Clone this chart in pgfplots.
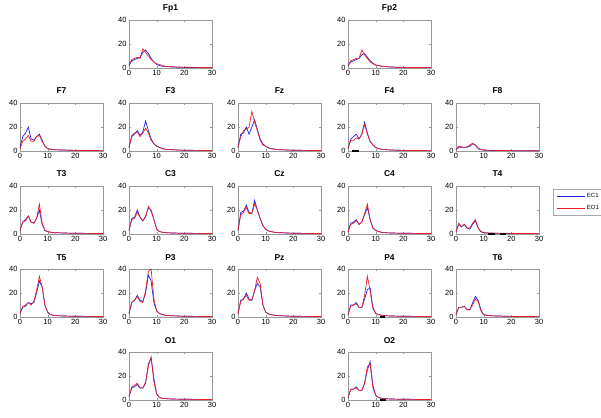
\documentclass[border=0pt]{standalone}
\usepackage{fontspec}
\setmainfont{Liberation Sans}
\usepackage{pgfplots}
\pgfplotsset{compat=1.18}

\definecolor{ecblue}{RGB}{30,30,235}
\definecolor{eored}{RGB}{235,30,40}

\pgfplotsset{
  panel/.style={
    anchor=south west,
    scale only axis,
    width=83pt, height=48pt,
    xmin=0, xmax=30, ymin=0, ymax=40,
    xtick={0,10,20,30}, ytick={0,20,40},
    axis line style={gray!80},
    tick style={gray!80},
    major tick length=2pt,
    tick align=inside,
    clip=false,
    /pgf/number format/assume math mode=true,
    tick label style={font=\fontsize{7.5}{8}\selectfont},
    xticklabel style={yshift=1pt},
    yticklabel style={xshift=1pt},
    title style={font=\bfseries\fontsize{8.5}{9}\selectfont, at={(0.5,1)}, anchor=base, yshift=3pt},
  },
  ec/.style={color=ecblue, line width=0.7pt},
  eo/.style={color=eored, line width=0.7pt},
  sig/.style={color=black, line width=2.6pt, forget plot},
}

\begin{document}
\begin{tikzpicture}

% row 1
\begin{axis}[panel, at={(129pt,349pt)}, title={Fp1}]
\addplot[ec] coordinates {(0,2)(1,6)(2,7)(3,8)(4,9)(5,13)(6,15)(7,12)(8,8)(9,5)(10,3)(11,2)(12,1.5)(13,1.2)(14,1)(16,0.8)(18,0.6)(20,0.5)(25,0.4)(30,0.3)};
\addplot[eo] coordinates {(0,3)(1,7)(2,8)(3,9)(4,8)(5,16)(6,13)(7,10)(8,7)(9,5)(10,3.5)(11,3)(12,2)(13,1.5)(14,1.2)(16,1)(18,0.8)(20,0.6)(25,0.5)(30,0.4)};
\end{axis}
\begin{axis}[panel, at={(348pt,349pt)}, title={Fp2}]
\addplot[ec] coordinates {(0,2)(1,5)(2,6)(3,7)(4,8)(5,11)(6,12)(7,9)(8,6)(9,4)(10,2.5)(11,2)(12,1.5)(13,1.2)(14,1)(16,0.8)(18,0.6)(20,0.5)(25,0.4)(30,0.3)};
\addplot[eo] coordinates {(0,2)(1,6)(2,7)(3,8)(4,8)(5,15)(6,11)(7,8)(8,5)(9,3.5)(10,2.5)(11,2)(12,1.6)(13,1.3)(14,1)(16,0.8)(18,0.6)(20,0.5)(25,0.4)(30,0.3)};
\end{axis}

% row 2
\begin{axis}[panel, at={(20pt,266pt)}, title={F7}]
\addplot[ec] coordinates {(0,3)(1,12)(2,15)(3,20)(4,10)(5,9)(6,12)(7,14)(8,9)(9,4)(10,2)(11,1.5)(12,1.2)(13,1)(14,0.9)(16,0.8)(18,0.6)(20,0.5)(25,0.4)(30,0.3)};
\addplot[eo] coordinates {(0,2)(1,8)(2,10)(3,13)(4,8)(5,8)(6,12)(7,13)(8,8)(9,4)(10,2)(11,1.5)(12,1.2)(13,1)(14,0.9)(16,0.8)(18,0.6)(20,0.5)(25,0.4)(30,0.3)};
\end{axis}
\begin{axis}[panel, at={(129pt,266pt)}, title={F3}]
\addplot[ec] coordinates {(0,3)(1,12)(2,14)(3,17)(4,13)(5,16)(6,25)(7,17)(8,10)(9,6)(10,4)(11,3)(12,2)(13,1.5)(14,1.2)(16,1)(18,0.8)(20,0.6)(25,0.5)(30,0.4)};
\addplot[eo] coordinates {(0,3)(1,13)(2,15)(3,16)(4,12)(5,15)(6,19)(7,15)(8,9)(9,6)(10,4)(11,3)(12,2)(13,1.5)(14,1.2)(16,1)(18,0.8)(20,0.6)(25,0.5)(30,0.4)};
\end{axis}
\begin{axis}[panel, at={(238pt,266pt)}, title={Fz}]
\addplot[ec] coordinates {(0,3)(1,14)(2,15)(3,20)(4,14)(5,20)(6,26)(7,18)(8,10)(9,6)(10,4)(11,2.5)(12,2)(13,1.5)(14,1.2)(16,1)(18,0.8)(20,0.6)(25,0.5)(30,0.4)};
\addplot[eo] coordinates {(0,3)(1,12)(2,17)(3,18)(4,20)(5,33)(6,24)(7,17)(8,9)(9,5)(10,4)(11,2.5)(12,2)(13,1.5)(14,1.2)(16,1)(18,0.8)(20,0.6)(25,0.5)(30,0.4)};
\end{axis}
\begin{axis}[panel, at={(348pt,266pt)}, title={F4}]
\addplot[ec] coordinates {(0,2)(1,10)(2,12)(3,14)(4,10)(5,14)(6,24)(7,15)(8,8)(9,5)(10,3)(11,2)(12,1.5)(13,1.2)(14,1)(16,0.8)(18,0.6)(20,0.5)(25,0.4)(30,0.3)};
\addplot[eo] coordinates {(0,2)(1,9)(2,9)(3,11)(4,10)(5,14)(6,22)(7,14)(8,8)(9,5)(10,3)(11,2)(12,1.5)(13,1.2)(14,1)(16,0.8)(18,0.6)(20,0.5)(25,0.4)(30,0.3)};
\addplot[sig] coordinates {(1.6,0)(4,0)};
\end{axis}
\begin{axis}[panel, at={(456pt,266pt)}, title={F8}]
\addplot[ec] coordinates {(0,1)(1,3)(2,3)(3,3)(4,3)(5,4)(6,6)(7,5)(8,2)(9,1)(10,0.8)(11,0.6)(12,0.5)(14,0.4)(16,0.4)(18,0.3)(20,0.3)(25,0.2)(30,0.2)};
\addplot[eo] coordinates {(0,1)(1,4)(2,3.5)(3,3)(4,3.5)(5,5)(6,6.5)(7,5)(8,2.5)(9,1.2)(10,0.9)(11,0.7)(12,0.6)(14,0.5)(16,0.4)(18,0.4)(20,0.3)(25,0.3)(30,0.2)};
\end{axis}

% row 3
\begin{axis}[panel, at={(20pt,183pt)}, title={T3}]
\addplot[ec] coordinates {(0,3)(1,10)(2,12)(3,15)(4,10)(5,9)(6,13)(7,20)(8,8)(9,3)(10,2)(11,1.5)(12,1.2)(13,1)(14,1)(16,0.8)(18,0.7)(20,0.6)(25,0.5)(30,0.4)};
\addplot[eo] coordinates {(0,3)(1,10)(2,11)(3,15)(4,10)(5,9)(6,13)(7,25)(8,9)(9,3)(10,2)(11,1.5)(12,1.2)(13,1)(14,1)(16,0.8)(18,0.7)(20,0.6)(25,0.5)(30,0.4)};
\end{axis}
\begin{axis}[panel, at={(129pt,183pt)}, title={C3}]
\addplot[ec] coordinates {(0,3)(1,13)(2,14)(3,20)(4,14)(5,11)(6,15)(7,22)(8,20)(9,12)(10,4)(11,2)(12,1.5)(13,1.2)(14,1)(16,0.8)(18,0.7)(20,0.6)(25,0.5)(30,0.4)};
\addplot[eo] coordinates {(0,3)(1,12)(2,13)(3,18)(4,14)(5,11)(6,14)(7,23)(8,19)(9,12)(10,4)(11,2)(12,1.5)(13,1.2)(14,1)(16,0.8)(18,0.7)(20,0.6)(25,0.5)(30,0.4)};
\end{axis}
\begin{axis}[panel, at={(238pt,183pt)}, title={Cz}]
\addplot[ec] coordinates {(0,3)(1,18)(2,19)(3,24)(4,18)(5,17)(6,28)(7,20)(8,13)(9,7)(10,4)(11,2.5)(12,2)(13,1.5)(14,1.2)(16,1)(18,0.8)(20,0.6)(25,0.5)(30,0.4)};
\addplot[eo] coordinates {(0,3)(1,16)(2,18)(3,22)(4,17)(5,17)(6,25)(7,20)(8,13)(9,7)(10,4)(11,2.5)(12,2)(13,1.5)(14,1.2)(16,1)(18,0.8)(20,0.6)(25,0.5)(30,0.4)};
\end{axis}
\begin{axis}[panel, at={(348pt,183pt)}, title={C4}]
\addplot[ec] coordinates {(0,2)(1,9)(2,10)(3,12)(4,8)(5,10)(6,16)(7,22)(8,12)(9,5)(10,3)(11,2)(12,1.5)(13,1.2)(14,1)(16,0.8)(18,0.7)(20,0.6)(25,0.5)(30,0.4)};
\addplot[eo] coordinates {(0,2)(1,8)(2,9)(3,11)(4,8)(5,10)(6,17)(7,25)(8,12)(9,5)(10,3)(11,2)(12,1.5)(13,1.2)(14,1)(16,0.8)(18,0.7)(20,0.6)(25,0.5)(30,0.4)};
\end{axis}
\begin{axis}[panel, at={(456pt,183pt)}, title={T4},
  legend style={at={(1.169,0.94)}, anchor=north west, draw=gray!70,
    font=\fontsize{6}{7}\selectfont, inner xsep=3pt, inner ysep=2.5pt,
    row sep=2pt, cells={anchor=west}},
  legend image code/.code={\draw[#1] (0pt,0pt) -- (28pt,0pt);}]
\addlegendimage{ec}
\addlegendentry{EC1}
\addlegendimage{eo}
\addlegendentry{EO1}
\addplot[ec, forget plot] coordinates {(0,2)(1,8)(2,6)(3,8)(4,5)(5,4)(6,8)(7,11)(8,5)(9,2)(10,1)(11,0.8)(12,0.7)(13,0.6)(14,0.6)(16,0.5)(18,0.5)(20,0.4)(25,0.3)(30,0.3)};
\addplot[eo, forget plot] coordinates {(0,2)(1,9)(2,6)(3,8)(4,5)(5,5)(6,9)(7,12)(8,5)(9,2)(10,1.2)(11,1)(12,0.9)(13,0.8)(14,0.7)(16,0.6)(18,0.6)(20,0.5)(25,0.4)(30,0.3)};
\addplot[sig] coordinates {(11.6,0)(14,0)};
\addplot[sig] coordinates {(15.9,0)(18,0)};
\end{axis}

% row 4
\begin{axis}[panel, at={(20pt,100pt)}, title={T5}]
\addplot[ec] coordinates {(0,3)(1,8)(2,9)(3,12)(4,11)(5,12)(6,20)(7,30)(8,25)(9,10)(10,4)(11,2)(12,1.5)(13,1.2)(14,1)(16,0.8)(18,0.7)(20,0.6)(25,0.5)(30,0.4)};
\addplot[eo] coordinates {(0,3)(1,9)(2,10)(3,12)(4,10)(5,13)(6,22)(7,34)(8,25)(9,10)(10,4)(11,2)(12,1.5)(13,1.2)(14,1)(16,0.8)(18,0.7)(20,0.6)(25,0.5)(30,0.4)};
\end{axis}
\begin{axis}[panel, at={(129pt,100pt)}, title={P3}]
\addplot[ec] coordinates {(0,3)(1,12)(2,14)(3,18)(4,14)(5,13)(6,20)(7,35)(8,30)(9,12)(10,5)(11,3)(12,2)(13,1.5)(14,1.2)(16,1)(18,0.8)(20,0.6)(25,0.5)(30,0.4)};
\addplot[eo] coordinates {(0,3)(1,12)(2,14)(3,17)(4,13)(5,12)(6,22)(7,38)(8,40)(9,15)(10,5)(11,3)(12,2)(13,1.5)(14,1.2)(16,1)(18,0.8)(20,0.6)(25,0.5)(30,0.4)};
\end{axis}
\begin{axis}[panel, at={(238pt,100pt)}, title={Pz}]
\addplot[ec] coordinates {(0,3)(1,14)(2,15)(3,20)(4,15)(5,14)(6,22)(7,28)(8,25)(9,10)(10,4)(11,2.5)(12,2)(13,1.5)(14,1.2)(16,1)(18,0.8)(20,0.6)(25,0.5)(30,0.4)};
\addplot[eo] coordinates {(0,3)(1,13)(2,15)(3,18)(4,14)(5,14)(6,22)(7,33)(8,28)(9,10)(10,4)(11,2.5)(12,2)(13,1.5)(14,1.2)(16,1)(18,0.8)(20,0.6)(25,0.5)(30,0.4)};
\end{axis}
\begin{axis}[panel, at={(348pt,100pt)}, title={P4}]
\addplot[ec] coordinates {(0,2)(1,10)(2,10)(3,12)(4,8)(5,8)(6,15)(7,23)(8,24)(9,8)(10,3)(11,2)(12,1.5)(13,1.2)(14,1)(16,0.8)(18,0.7)(20,0.6)(25,0.5)(30,0.4)};
\addplot[eo] coordinates {(0,2)(1,9)(2,10)(3,11)(4,8)(5,8)(6,18)(7,34)(8,22)(9,7)(10,3)(11,2)(12,1.5)(13,1.2)(14,1)(16,0.8)(18,0.7)(20,0.6)(25,0.5)(30,0.4)};
\addplot[sig] coordinates {(11.5,0)(13.5,0)};
\end{axis}
\begin{axis}[panel, at={(456pt,100pt)}, title={T6}]
\addplot[ec] coordinates {(0,2)(1,8)(2,8)(3,9)(4,6)(5,6)(6,12)(7,17)(8,14)(9,6)(10,2)(11,1.5)(12,1.2)(13,1)(14,0.9)(16,0.8)(18,0.6)(20,0.5)(25,0.4)(30,0.3)};
\addplot[eo] coordinates {(0,2)(1,8)(2,8)(3,9)(4,6)(5,6)(6,10)(7,15)(8,13)(9,5)(10,2)(11,1.5)(12,1.2)(13,1)(14,0.9)(16,0.8)(18,0.6)(20,0.5)(25,0.4)(30,0.3)};
\end{axis}

% row 5
\begin{axis}[panel, at={(129pt,17pt)}, title={O1}]
\addplot[ec] coordinates {(0,3)(1,10)(2,11)(3,13)(4,10)(5,10)(6,14)(7,30)(8,35)(9,18)(10,5)(11,2)(12,1.5)(13,1.2)(14,1)(16,0.8)(18,0.7)(20,0.6)(25,0.5)(30,0.4)};
\addplot[eo] coordinates {(0,3)(1,11)(2,12)(3,14)(4,10)(5,10)(6,15)(7,28)(8,36)(9,15)(10,5)(11,2)(12,1.5)(13,1.2)(14,1)(16,0.8)(18,0.7)(20,0.6)(25,0.5)(30,0.4)};
\end{axis}
\begin{axis}[panel, at={(348pt,17pt)}, title={O2}]
\addplot[ec] coordinates {(0,2)(1,9)(2,9)(3,11)(4,8)(5,8)(6,14)(7,25)(8,32)(9,12)(10,4)(11,2)(12,1.5)(13,1.2)(14,1)(16,0.8)(18,0.7)(20,0.6)(25,0.5)(30,0.4)};
\addplot[eo] coordinates {(0,2)(1,9)(2,9)(3,10)(4,8)(5,8)(6,14)(7,28)(8,30)(9,10)(10,4)(11,2)(12,1.5)(13,1.2)(14,1)(16,0.8)(18,0.7)(20,0.6)(25,0.5)(30,0.4)};
\addplot[sig] coordinates {(11.5,0)(13.7,0)};
\end{axis}

\pgfresetboundingbox
\path[use as bounding box] (0pt,0pt) rectangle (601pt,417pt);
\end{tikzpicture}
\end{document}
